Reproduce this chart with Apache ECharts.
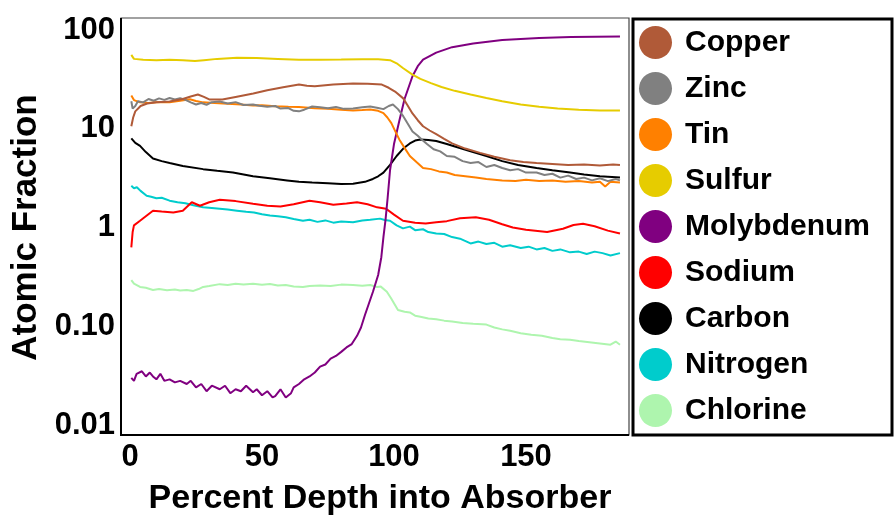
<!DOCTYPE html>
<html>
<head>
<meta charset="utf-8">
<script src="https://cdn.jsdelivr.net/npm/echarts@6/dist/echarts.min.js"></script>
<style>
  html, body { margin: 0; padding: 0; background: #fff; }
  #chart { width: 894px; height: 521px; }
</style>
</head>
<body>
<div id="chart"></div>
<script>
// depth (%) / atomic fraction pairs
const copper = [[0.5,10.6],[1.2,13],[2,15],[4,17],[6.5,18],[10,18.5],[15,18.9],[20,20],[23,21.2],[25.7,22.2],[28,21],[30,19.8],[35,19.8],[40,21],[46.7,22.7],[52,24.5],[58,26.3],[64,28],[67,27.2],[70,27],[77,28],[84.5,28.8],[90,28.6],[95.4,28],[98,26],[100.4,23.8],[103.5,20.3],[105,17.5],[107,14.3],[109,12.2],[111,10.6],[113.5,9.6],[116,8.8],[119,7.9],[122,7.1],[127,6.3],[132.6,5.7],[138,5.2],[144,4.8],[149,4.6],[154,4.5],[160,4.4],[166,4.3],[172,4.35],[178,4.25],[183,4.35],[185.6,4.3]]
const zinc = [[0.5,19],[1,16],[2,17],[3,19],[5,18.5],[7,20],[9,19.2],[11,20.3],[13,19.6],[15,20.5],[17,19.8],[19,20.4],[21,19.6],[23,18.5],[25,17.6],[27,18.2],[29,17.5],[31,18.6],[34,18.9],[37,18],[40,18.6],[43,17.4],[46.6,17.6],[49,17.1],[52,16.7],[55,17],[57,16],[60,16.2],[62,15.2],[64,15],[66,15.6],[69,16.8],[72,16.5],[75,16.1],[78,16.6],[81,15.9],[84.5,16],[88,16.5],[91,16.8],[94,16.2],[96,15.8],[98,17],[99.6,17.6],[101.5,15.8],[103.5,13.4],[105,11.5],[107,9.4],[109,8.5],[110.5,7.8],[112.5,7],[115,6.2],[117.5,5.9],[120,5.3],[123,5.2],[126,4.7],[129,4.5],[132,4.6],[135,4.1],[138,4.3],[141,4.0],[144,3.8],[147,3.9],[150,3.6],[154,3.6],[157,3.4],[160,3.5],[163,3.2],[166,3.35],[169,3.1],[172,3.2],[175,3.0],[178,3.15],[181,2.95],[184,3.1],[185.6,3.0]]
const tin = [[0.5,21.7],[1.5,19.5],[3.8,18.5],[7,18.2],[10,18.6],[15,18.5],[19,19.2],[22.7,19.9],[25,19.1],[27.7,18.5],[32,18.2],[37,17.9],[42,17.6],[46.6,17.2],[50,17.3],[55,16.9],[60,16.7],[64,16.6],[70,16.1],[75,15.9],[80,15.6],[84.5,15.3],[88,15.5],[91,15.7],[94,15.2],[96,14.4],[97.5,13],[99,11.4],[100.5,9.4],[102,7.8],[104,6.4],[106,5.3],[108.5,4.6],[111,4.0],[114,3.9],[117,3.7],[120,3.6],[123,3.4],[127,3.3],[131,3.2],[135,3.1],[141,3.0],[146,2.95],[150,3.05],[155,2.95],[160,3.0],[165,2.9],[170,2.95],[175,2.85],[178,2.9],[180,2.6],[182,2.9],[185.6,2.85]]
const sulfur = [[0.5,56],[1.5,51],[5,50],[10,49.5],[15,50],[20,49.5],[24.6,48.5],[28,49.5],[33,51],[40.5,52.5],[48,52],[56,51],[64,50],[72,50],[80,50.2],[88,50.5],[94,50.5],[98.5,49.5],[101,46],[103.5,41],[107,35.3],[110,32],[114,29],[118,26.5],[123,24.2],[129,22.2],[135,20.5],[141,19],[148,17.6],[155,16.7],[162,16],[170,15.6],[178,15.3],[185.6,15.3]]
const molybdenum = [[0.5,0.030],[1.5,0.028],[2.5,0.033],[4.5,0.035],[6,0.031],[7.5,0.034],[8.7,0.031],[10,0.029],[11.5,0.033],[13,0.028],[15,0.029],[17,0.027],[19,0.028],[21.5,0.026],[23,0.028],[25,0.024],[27,0.026],[29,0.022],[31,0.025],[34,0.023],[36,0.025],[38,0.021],[40,0.023],[42,0.022],[44,0.025],[46.6,0.0215],[48,0.023],[50,0.020],[52,0.022],[54,0.019],[55,0.0196],[57,0.023],[59,0.019],[61,0.021],[62,0.024],[64,0.026],[66,0.029],[68,0.031],[70,0.034],[72,0.039],[74,0.041],[76,0.047],[78,0.05],[80,0.055],[82,0.061],[84,0.066],[86,0.08],[87.5,0.097],[89,0.13],[90.5,0.17],[92,0.222],[94,0.33],[95.2,0.5],[96,0.8],[96.8,1.2],[97.6,2.0],[98.5,3.8],[100,7],[102,12],[104,20],[107,34],[109,43],[111,50],[116,59],[122,67],[130,73],[141,79],[155,83],[167,85],[185.6,86]]
const sodium = [[0.5,0.63],[1,0.9],[1.5,1.05],[3.8,1.17],[6,1.3],[8.7,1.48],[12,1.45],[16.4,1.42],[20,1.48],[23.4,1.8],[26.5,1.66],[30,1.8],[34,1.91],[40,1.85],[46.6,1.74],[52,1.66],[57,1.63],[62,1.72],[68,1.87],[72,1.8],[77,1.7],[82,1.75],[86,1.8],[90,1.72],[93.6,1.6],[97,1.55],[100,1.35],[103.4,1.17],[108,1.12],[112,1.1],[116,1.13],[120,1.16],[125,1.24],[131,1.27],[136,1.2],[141,1.08],[145,1.0],[150,0.95],[158,0.9],[164,0.97],[168,1.06],[171.6,1.09],[176,1.03],[181,0.93],[185.6,0.87]]
const carbon = [[0.5,8.0],[2,7.2],[3.8,6.7],[6,5.8],[8.7,5.0],[12,4.7],[15,4.5],[20,4.2],[27.7,3.9],[33,3.75],[39,3.6],[46.6,3.3],[53,3.15],[59.5,3.0],[64,2.9],[69,2.85],[75,2.8],[80,2.75],[84.5,2.77],[89,2.9],[92,3.1],[94,3.3],[96,3.6],[98.5,4.3],[101,5.3],[103.5,6.3],[106,7.1],[108,7.6],[110,7.8],[113,7.7],[116,7.5],[120,7.0],[124,6.5],[129,5.9],[135,5.3],[141,4.7],[147,4.3],[154,4.0],[160,3.8],[166.7,3.6],[172,3.45],[178,3.3],[185.6,3.2]]
const nitrogen = [[0.5,2.64],[1.5,2.5],[2.6,2.56],[4,2.35],[6.3,2.1],[8,2.05],[10,1.98],[12,2.0],[15,1.87],[18,1.8],[21,1.76],[24,1.68],[27.7,1.6],[31,1.58],[34,1.55],[37,1.52],[40.5,1.48],[44,1.44],[47,1.42],[50,1.36],[53,1.32],[56,1.3],[59,1.27],[62,1.22],[65.5,1.17],[68,1.2],[71,1.14],[74,1.18],[77,1.12],[80,1.15],[84.5,1.13],[88,1.18],[91,1.2],[94.7,1.23],[96.5,1.19],[98.5,1.17],[101,1.05],[103.4,0.98],[106,1.02],[108,0.94],[111,0.96],[113,0.9],[116,0.87],[119,0.86],[122,0.8],[125,0.77],[129,0.69],[132,0.72],[135,0.68],[138,0.7],[141,0.64],[144,0.66],[148,0.62],[151,0.64],[154,0.6],[157,0.62],[160,0.58],[163,0.6],[166.7,0.56],[170,0.57],[173,0.54],[176,0.57],[179,0.55],[182,0.52],[185.6,0.55]]
const chlorine = [[0.5,0.293],[1.5,0.27],[3.8,0.25],[6,0.245],[8.7,0.233],[11,0.238],[14,0.232],[17,0.236],[19,0.23],[21.5,0.233],[24,0.228],[26,0.238],[27.7,0.25],[30,0.255],[34,0.267],[37,0.262],[40,0.27],[43,0.264],[46.6,0.27],[50,0.263],[53,0.268],[56,0.258],[59,0.262],[62,0.253],[65.5,0.25],[68,0.256],[72,0.258],[76,0.255],[80,0.264],[84.5,0.262],[88,0.257],[91,0.262],[93.6,0.25],[95,0.252],[97.3,0.224],[99,0.19],[101.5,0.146],[104,0.14],[106,0.138],[108,0.128],[110,0.125],[113,0.12],[116,0.118],[119,0.114],[122,0.112],[126,0.108],[130,0.106],[135,0.104],[138,0.097],[141,0.093],[144,0.09],[148,0.085],[152,0.082],[156,0.08],[160,0.076],[163,0.074],[166.7,0.073],[170,0.071],[174,0.069],[178,0.067],[182,0.065],[184,0.07],[185.6,0.065]]

const elements = ['Copper', 'Zinc', 'Tin', 'Sulfur', 'Molybdenum', 'Sodium', 'Carbon', 'Nitrogen', 'Chlorine']
const elementData = [copper, zinc, tin, sulfur, molybdenum, sodium, carbon, nitrogen, chlorine]
const colors = ['#b05a38', '#808080', '#ff8000', '#e6cc00', '#800080', '#ff0000', '#000000', '#00cccc', '#aef5ae']
const yTickLabels = ['0.01', '0.10', '1', '10', '100']

const font = "'Liberation Sans', Arial, sans-serif"

const chart = echarts.init(document.getElementById('chart'))

const series = elements.map((name, i) => ({
    name,
    type: 'line',
    data: elementData[i],
    showSymbol: false,
    symbol: 'none',
    z: 10 - i,
    lineStyle: { color: colors[i], width: 2 },
    itemStyle: { color: colors[i] }
}))

chart.setOption({
    animation: false,
    backgroundColor: '#fff',
    grid: { left: 130, right: 264, top: 30, bottom: 91 },
    xAxis: {
        type: 'value',
        min: 0,
        max: 189.4,
        interval: 50,
        offset: 5,
        name: 'Percent Depth into Absorber',
        nameLocation: 'middle',
        nameGap: 52,
        nameTextStyle: { fontFamily: font, fontWeight: 'bold', fontSize: 34, color: '#000' },
        axisLine: { show: false },
        axisTick: { show: false },
        splitLine: { show: false },
        axisLabel: {
            showMaxLabel: false,
            margin: 12,
            fontFamily: font, fontWeight: 'bold', fontSize: 31, color: '#000'
        }
    },
    yAxis: {
        type: 'log',
        min: 0.01,
        max: 100,
        logBase: 10,
        offset: 9,
        name: 'Atomic Fraction',
        nameLocation: 'middle',
        nameGap: 74,
        nameTextStyle: { fontFamily: font, fontWeight: 'bold', fontSize: 35, color: '#000' },
        axisLine: { show: false },
        axisTick: { show: false },
        splitLine: { show: false },
        axisLabel: {
            margin: 6,
            fontFamily: font, fontWeight: 'bold', fontSize: 31, color: '#000',
            formatter: v => yTickLabels[Math.round(Math.log10(v)) + 2]
        }
    },
    legend: {
        orient: 'vertical',
        left: 634,
        top: 21,
        icon: 'circle',
        itemWidth: 33,
        itemHeight: 33,
        itemGap: 13,
        data: elements,
        textStyle: { fontFamily: font, fontWeight: 'bold', fontSize: 30, color: '#000', padding: [0, 0, 0, 8] }
    },
    graphic: [
        {
            type: 'rect',
            shape: { x: 121, y: 18, width: 508, height: 417 },
            style: { fill: 'none', stroke: '#444', lineWidth: 1.2 },
            silent: true
        },
        {
            type: 'line',
            shape: { x1: 121, y1: 18, x2: 121, y2: 436 },
            style: { stroke: '#000', lineWidth: 2 },
            silent: true
        },
        {
            type: 'line',
            shape: { x1: 120, y1: 435, x2: 629, y2: 435 },
            style: { stroke: '#000', lineWidth: 2 },
            silent: true
        },
        {
            type: 'rect',
            shape: { x: 633, y: 19, width: 259, height: 416 },
            style: { fill: 'none', stroke: '#000', lineWidth: 3 },
            silent: true
        }
    ],
    series
})
</script>
</body>
</html>
